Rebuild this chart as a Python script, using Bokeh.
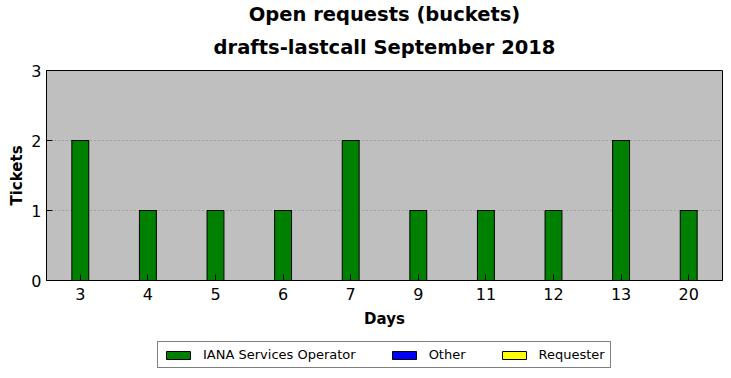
from bokeh.plotting import figure
from bokeh.layouts import column
from bokeh.models import (FactorRange, Range1d, Legend, LegendItem, FixedTicker, Title)
from bokeh.embed import file_html
from bokeh.resources import INLINE

days = ["3", "4", "5", "6", "7", "9", "11", "12", "13", "20"]
iana = [2, 1, 1, 1, 2, 1, 1, 1, 2, 1]
other = [0, 0, 0, 0, 0, 0, 0, 0, 0, 0]
requester = [0, 0, 0, 0, 0, 0, 0, 0, 0, 0]
series = ["IANA Services Operator", "Other", "Requester"]
colors = ["#008000", "#0000ff", "#ffff00"]
yticks = [0, 1, 2, 3]
title_lines = ["Open requests (buckets)", "drafts-lastcall September 2018"]

FONT = "DejaVu Sans"

xr = FactorRange(*days, range_padding=0)
yr = Range1d(0, 3)

p = figure(width=731, height=330, x_range=xr, y_range=yr,
           output_backend="svg", toolbar_location=None,
           min_border_left=46, min_border_right=9, min_border_top=70,
           min_border_bottom=48)

data = {"days": days, series[0]: iana, series[1]: other, series[2]: requester}
rs = p.vbar_stack(series, x="days", width=0.25, source=data, color=colors,
                  line_color="black", line_width=1)

p.add_layout(Title(text=title_lines[1], align="center", text_font=FONT,
                   text_font_size="19.5px", text_font_style="bold",
                   text_color="black", standoff=23), "above")
p.add_layout(Title(text=title_lines[0], align="center", text_font=FONT,
                   text_font_size="19.5px", text_font_style="bold",
                   text_color="black", standoff=-7), "above")

p.background_fill_color = "#bfbfbf"
p.border_fill_color = "white"
p.outline_line_color = "black"
p.outline_line_width = 1

p.xgrid.grid_line_color = None
p.ygrid.grid_line_color = "#808080"
p.ygrid.grid_line_dash = "1 3"
p.ygrid.grid_line_width = 1
p.yaxis.ticker = FixedTicker(ticks=yticks)

for ax in (p.xaxis[0], p.yaxis[0]):
    ax.major_tick_in = 6
    ax.major_tick_out = 0
    ax.minor_tick_in = 0
    ax.minor_tick_out = 0
    ax.major_tick_line_color = "black"
    ax.axis_line_color = "black"
    ax.major_label_text_font = FONT
    ax.major_label_text_font_size = "16px"
    ax.major_label_text_color = "black"
    ax.axis_label_text_font = FONT
    ax.axis_label_text_font_size = "15px"
    ax.axis_label_text_font_style = "bold"
    ax.axis_label_text_color = "black"

p.xaxis.axis_label = "Days"
p.yaxis.axis_label = "Tickets"
p.xaxis.major_label_standoff = 7
p.xaxis.axis_label_standoff = 7
p.yaxis.major_label_standoff = 5
p.yaxis.axis_label_standoff = 2

# legend strip below the chart
lg = figure(width=731, height=48, x_range=xr, y_range=yr,
            output_backend="svg", toolbar_location=None,
            min_border=0, outline_line_color=None)
lg.axis.visible = False
lg.grid.visible = False
lg.background_fill_color = "white"
lrs = lg.vbar_stack(series, x="days", width=0.25, source=data, color=colors,
                    line_color="black", line_width=1)
for r in lrs:
    r.visible = False

legend = Legend(items=[LegendItem(label=s, renderers=[r]) for s, r in zip(series, lrs)],
                orientation="horizontal", location=(111, 10),
                label_text_font=FONT, label_text_font_size="13px",
                label_text_color="black",
                glyph_width=30, glyph_height=10, spacing=33, label_standoff=10,
                padding=5, margin=0, border_line_color="black", border_line_width=1,
                background_fill_color="white", background_fill_alpha=1)
lg.add_layout(legend)

layout = column(p, lg, spacing=0)
open("out.html", "w").write(file_html(layout, INLINE))
